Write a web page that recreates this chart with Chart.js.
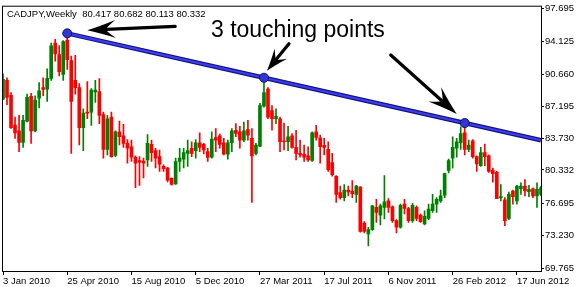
<!DOCTYPE html>
<html><head><meta charset="utf-8">
<script src="https://cdn.jsdelivr.net/npm/chart.js@4.4.1/dist/chart.umd.min.js"></script>
<style>html,body{margin:0;padding:0;background:#fff;overflow:hidden}canvas{display:block}</style>
</head><body>
<canvas id="c" width="576" height="287"></canvas>
<script>
const openP = [87.96,89.98,88.35,85.17,84.53,83.29,85.59,88.25,84.53,88.07,89.20,89.03,90.19,93.98,92.74,90.62,94.30,92.10,89.98,89.20,
84.89,86.55,86.55,88.74,88.78,86.30,82.55,86.02,81.88,84.43,84.00,83.19,82.83,81.70,81.35,81.28,81.42,83.08,82.41,81.77,
80.71,80.53,79.43,78.83,81.24,81.49,82.12,82.66,82.41,83.26,83.08,82.30,81.70,83.82,84.00,83.26,82.02,83.26,84.60,84.43,
83.54,84.67,83.72,82.12,82.90,87.19,89.03,86.73,85.84,85.84,83.43,83.36,84.00,82.76,82.12,82.02,81.84,81.35,84.43,83.79,
82.97,82.55,81.13,79.65,77.88,77.35,78.16,78.06,77.70,78.48,74.62,73.45,73.91,76.29,75.47,76.29,76.99,76.36,74.87,74.16,
76.64,76.18,74.87,76.29,75.47,74.52,75.12,75.93,76.64,76.99,77.60,80.29,81.60,82.66,83.26,84.32,82.55,83.47,81.77,80.78,
82.20,81.84,80.29,80.07,77.35,77.10,75.12,78.06,76.99,78.30,78.59,77.99,78.30,77.53,77.70];
const highP = [90.69,90.26,88.67,86.02,86.20,86.20,88.50,88.57,88.32,89.73,90.26,91.22,93.98,94.40,93.73,94.26,95.04,92.60,92.67,89.63,
86.90,89.84,89.10,89.98,90.16,86.55,86.20,86.55,84.53,85.59,85.24,83.61,83.54,81.84,81.77,81.60,84.14,83.54,82.66,82.48,
80.89,80.60,79.47,81.60,82.66,82.66,83.54,83.36,83.61,84.32,83.19,82.66,84.43,84.78,84.18,83.72,83.54,84.78,85.31,85.02,
85.49,85.66,84.78,83.19,87.50,90.10,89.20,87.26,86.90,86.02,85.38,85.02,84.25,84.60,83.54,83.01,82.83,84.43,85.13,84.07,
83.72,83.36,82.12,79.72,78.59,78.76,78.59,79.19,78.66,78.55,74.76,74.16,76.53,77.17,76.64,79.72,77.24,76.46,74.98,76.64,
77.17,76.29,76.74,76.46,75.58,75.93,76.64,77.70,77.35,78.16,80.00,81.49,83.89,83.72,84.96,85.38,83.54,83.61,81.84,82.76,
83.12,81.95,80.53,80.18,78.76,77.35,77.95,78.16,78.66,78.94,79.29,78.66,78.41,78.94,78.59];
const lowP = [87.90,87.36,84.80,83.72,82.30,82.76,85.49,83.19,84.43,87.01,88.32,87.72,89.98,92.03,90.44,89.98,91.15,82.12,88.50,83.01,
82.41,85.84,85.13,87.61,85.31,81.60,81.95,81.70,81.77,83.01,82.76,81.06,81.24,78.41,78.66,79.47,80.71,81.24,80.54,80.18,
80.18,79.05,78.69,78.76,80.18,80.54,80.71,81.77,81.60,82.30,82.06,81.24,81.60,82.30,82.66,81.95,81.49,82.30,83.90,82.66,
83.36,83.54,76.82,81.95,82.83,87.08,85.84,84.60,85.31,82.30,82.48,82.41,82.66,81.42,81.70,81.24,81.24,81.24,83.54,81.06,
81.95,80.18,79.65,76.82,77.17,76.99,77.53,77.35,76.82,73.63,73.56,72.15,73.81,74.69,74.41,75.05,75.75,74.69,73.56,74.06,
75.58,74.69,74.69,74.87,74.69,74.41,74.98,75.75,75.75,76.82,77.35,80.00,80.53,81.70,82.55,81.95,82.30,81.60,80.18,80.71,
80.78,80.07,79.01,77.24,76.99,74.34,74.98,76.64,76.64,77.70,77.53,77.45,77.35,76.29,77.53];
const closeP = [90.09,88.14,84.89,84.32,83.29,85.66,88.14,84.53,87.86,88.85,89.00,90.19,93.70,92.81,90.90,94.16,92.20,87.72,89.20,84.89,
86.44,86.44,88.92,88.92,86.20,82.55,85.84,81.77,84.43,83.90,83.19,82.66,81.70,81.06,81.17,81.06,83.19,82.20,81.60,80.96,
80.46,79.22,78.76,81.24,81.60,82.20,82.41,82.12,83.26,82.76,82.48,81.67,83.65,83.54,83.08,82.02,83.26,84.53,84.25,83.54,
84.53,84.07,81.84,83.01,87.26,88.67,86.02,85.84,86.09,83.36,83.36,83.90,82.76,82.12,81.95,81.70,81.42,84.32,83.82,82.83,
82.76,80.36,79.82,77.70,77.35,78.16,77.95,77.77,78.59,73.70,73.70,73.91,76.46,75.75,76.46,76.89,76.29,74.87,74.16,76.53,
76.18,74.87,76.53,75.12,74.77,75.33,76.11,76.64,77.17,77.53,79.93,81.35,82.76,83.36,84.25,82.55,83.01,81.77,80.99,82.20,
81.77,80.18,79.93,77.24,77.45,74.87,77.70,77.45,78.59,78.59,78.06,78.23,77.53,78.23,78.41];

const tickLabels = ['3 Jan 2010','25 Apr 2010','15 Aug 2010','5 Dec 2010','27 Mar 2011','17 Jul 2011','6 Nov 2011','26 Feb 2012','17 Jun 2012'];
const tickEvery = 16;
const yTicks = [69.765,73.230,76.695,80.332,83.730,87.195,90.660,94.125,97.695];
const trendIdx = [16,65,115,134];
const trendVal = [95.04,90.26,85.38,83.53];
const touchIdx = [16,65,115];
const headerText = 'CADJPY,Weekly  80.417 80.682 80.113 80.332';
const noteText = '3 touching points';

const GREEN = '#008000', RED = '#ff0000';
const categories = openP.map((_, i) => i);
const trendData = openP.map(() => null);
trendIdx.forEach((ix, k) => { trendData[ix] = trendVal[k]; });
const FONT = 'Liberation Sans';

function arrow(ctx, x0, y0, x1, y1, L, W) {
  const dx = x1 - x0, dy = y1 - y0, len = Math.hypot(dx, dy);
  const ux = dx / len, uy = dy / len, px = -uy, py = ux;
  const P = (a, b) => [x1 - ux * a + px * b, y1 - uy * a + py * b];
  ctx.strokeStyle = '#000'; ctx.fillStyle = '#000';
  ctx.lineWidth = 3.2; ctx.lineCap = 'round';
  ctx.beginPath(); ctx.moveTo(x0, y0);
  const m = P(L * 0.5, 0); ctx.lineTo(m[0], m[1]); ctx.stroke();
  ctx.beginPath();
  ctx.moveTo(x1, y1);
  let c = P(L * 0.45, W * 0.35), b = P(L * 1.05, W);
  ctx.quadraticCurveTo(c[0], c[1], b[0], b[1]);
  c = P(L * 0.75, W * 0.3); let n = P(L * 0.68, 0);
  ctx.quadraticCurveTo(c[0], c[1], n[0], n[1]);
  c = P(L * 0.75, -W * 0.3); b = P(L * 1.05, -W);
  ctx.quadraticCurveTo(c[0], c[1], b[0], b[1]);
  c = P(L * 0.45, -W * 0.35);
  ctx.quadraticCurveTo(c[0], c[1], x1, y1);
  ctx.closePath(); ctx.fill();
}

const overlay = {
  id: 'overlay',
  afterDraw(chart) {
    const { ctx, chartArea: a } = chart;
    ctx.save();
    ctx.strokeStyle = '#000'; ctx.lineWidth = 1;
    ctx.strokeRect(a.left - 0.5, a.top - 0.5, a.right - a.left + 1, a.bottom - a.top + 1);
    ctx.font = '9.5px "' + FONT + '"'; ctx.fillStyle = '#000'; ctx.textBaseline = 'middle'; ctx.textAlign = 'left';
    ctx.fillText(headerText, a.left + 4, a.top + 8);
    const meta = chart.getDatasetMeta(3);
    const p = touchIdx.map(i => meta.data[i]);
    arrow(ctx, p[0].x + 108, p[0].y - 7, p[0].x + 20, p[0].y - 3, 27, 9);
    arrow(ctx, p[1].x + 25, p[1].y - 34, p[1].x + 3, p[1].y - 7, 21, 8);
    arrow(ctx, p[2].x - 74, p[2].y - 68, p[2].x - 8, p[2].y - 9, 28, 9.5);
    ctx.font = '23px "' + FONT + '"'; ctx.fillStyle = '#000'; ctx.textBaseline = 'alphabetic';
    ctx.fillText(noteText, p[1].x - 53, p[1].y - 41);
    ctx.restore();
  }
};

new Chart(document.getElementById('c'), {
  type: 'bar',
  data: {
    labels: categories,
    datasets: [
      { type: 'bar', data: openP.map((o, i) => [o, closeP[i]]),
        backgroundColor: c => closeP[c.dataIndex] >= openP[c.dataIndex] ? GREEN : RED,
        barThickness: 3, grouped: false, minBarLength: 1, borderWidth: 0, order: 2 },
      { type: 'bar', data: lowP.map((l, i) => [l, highP[i]]),
        backgroundColor: c => closeP[c.dataIndex] >= openP[c.dataIndex] ? GREEN : RED,
        barThickness: 1, grouped: false, borderWidth: 0, order: 3 },
      { type: 'line', data: trendData, spanGaps: true, borderColor: '#14147e', borderWidth: 4.5,
        pointRadius: 0, order: 1 },
      { type: 'line', data: trendData, spanGaps: true, borderColor: '#3c3cf2', borderWidth: 2.2,
        pointRadius: c => touchIdx.includes(c.dataIndex) ? 4.5 : 0,
        pointBackgroundColor: '#3434d6', pointBorderColor: '#10106a', pointBorderWidth: 1, order: 0 }
    ]
  },
  options: {
    responsive: false, animation: false, devicePixelRatio: 1,
    layout: { padding: { left: 3, top: 3, right: 0, bottom: 0 } },
    plugins: { legend: { display: false }, tooltip: { enabled: false } },
    scales: {
      x: {
        type: 'category', offset: false,
        grid: { offset: false, drawOnChartArea: false, drawTicks: true, tickLength: 4,
          color: c => (c.index % tickEvery === 0) ? '#000' : 'rgba(0,0,0,0)', lineWidth: 1 },
        border: { display: false },
        ticks: { autoSkip: false, maxRotation: 0, minRotation: 0, align: 'start', padding: 1, color: '#000',
          font: { family: FONT, size: 9.5 },
          callback: (v, i) => (i % tickEvery === 0) ? tickLabels[i / tickEvery] : '' },
        afterFit: s => { s.height = 16; }
      },
      y: {
        position: 'right', min: 69.447, max: 97.907,
        afterBuildTicks: s => { s.ticks = yTicks.map(v => ({ value: v })); },
        grid: { drawOnChartArea: false, tickLength: 3, color: '#000' },
        border: { display: false },
        ticks: { padding: 1, color: '#000', font: { family: FONT, size: 9.5 }, callback: v => Number(v).toFixed(3) },
        afterFit: s => { s.width = 35; }
      }
    }
  },
  plugins: [overlay]
});
</script>
</body></html>
